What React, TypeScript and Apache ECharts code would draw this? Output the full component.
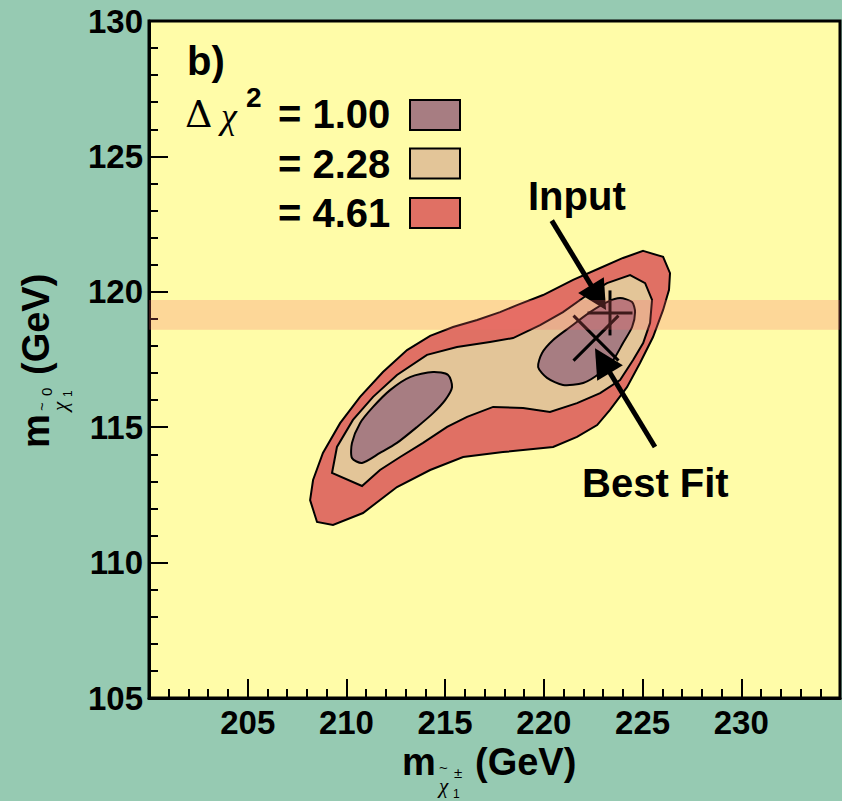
import React, { useEffect, useRef } from "react";
import * as echarts from "echarts";

// ---- data ----
const xRange = [200, 235];
const yRange = [105, 130];
const tickInterval = 5;

// Δχ² = 4.61 contour (outer)
const contour461: number[][] = [
  [225.03, 121.51], [226.04, 121.29], [226.39, 120.69], [226.34, 120.07], [226.04, 119.33],
  [225.53, 118.33], [224.87, 117.37], [224.21, 116.48], [223.35, 115.64], [222.70, 115.08],
  [221.68, 114.64], [220.47, 114.27], [217.93, 114.08], [215.91, 113.90], [214.24, 113.42],
  [212.56, 112.79], [210.84, 111.83], [209.32, 111.39], [208.51, 111.50], [208.16, 112.31],
  [208.31, 113.05], [208.81, 114.05], [209.68, 115.15], [210.69, 116.12], [211.85, 117.04],
  [213.07, 117.85], [214.24, 118.37], [215.40, 118.70], [216.62, 118.96], [217.78, 119.25],
  [218.64, 119.51], [219.96, 119.88], [221.48, 120.44], [222.85, 120.88], [224.01, 121.25],
];
// Δχ² = 2.28 contour
const contour228: number[][] = [
  [224.37, 120.62], [225.13, 120.32], [225.48, 119.70], [225.38, 118.85], [225.03, 118.11],
  [224.52, 117.48], [223.86, 116.74], [222.85, 116.26], [221.68, 115.89], [220.31, 115.56],
  [218.95, 115.71], [217.43, 115.75], [216.11, 115.38], [215.10, 115.01], [213.88, 114.42],
  [212.72, 113.90], [211.70, 113.42], [210.79, 112.83], [209.27, 113.31], [209.52, 114.27],
  [210.33, 115.27], [211.35, 116.12], [212.56, 116.93], [214.08, 117.67], [215.60, 117.96],
  [217.27, 118.15], [218.44, 118.29], [219.81, 118.77], [220.97, 119.25], [222.19, 119.88],
  [223.20, 120.32],
];
// Δχ² = 1.00 contour, right island
const contour100Right: number[][] = [
  [223.86, 119.77], [224.47, 119.62], [224.62, 119.25], [224.47, 118.70], [224.01, 118.11],
  [223.51, 117.48], [222.85, 117.00], [221.99, 116.63], [220.97, 116.56], [220.16, 116.82],
  [219.71, 117.22], [219.91, 117.74], [220.47, 118.22], [221.33, 118.70], [222.34, 119.25],
  [223.20, 119.62],
];
// Δχ² = 1.00 contour, left island
const contour100Left: number[][] = [
  [214.39, 117.04], [215.15, 116.93], [215.35, 116.48], [215.00, 116.00], [214.39, 115.52],
  [213.58, 115.01], [212.56, 114.42], [211.70, 114.05], [210.79, 113.68], [210.28, 113.86],
  [210.28, 114.42], [210.69, 115.15], [211.35, 115.75], [212.21, 116.37], [213.22, 116.85],
];

const band = [118.6, 119.7]; // horizontal band (y range)
const markerPoints: (number | string)[][] = [
  [223.35, 119.22, "plus"], // Input
  [222.64, 118.29, "cross"], // Best Fit
];
// arrows: [xStart, yStart, xTip, yTip]
const arrows: number[][] = [
  [220.4, 122.63, 223.15, 119.33],
  [225.63, 114.27, 222.59, 117.92],
];
const legendLevels = ["= 1.00", "= 2.28", "= 4.61"];

// ---- styles ----
const GREEN = "#96cab2";
const YELLOW = "#fffca8";
const C461 = "#e07064";
const C228 = "#e3c598";
const C100 = "#a77d82";
const legendColors = [C100, C228, C461];
const SANS = '"Liberation Sans", Arial, Helvetica, sans-serif';
const SERIF = '"Liberation Serif", "Times New Roman", serif';

function polygonSeries(name: string, pts: number[][], color: string, smooth: number) {
  return {
    type: "custom",
    name,
    coordinateSystem: "cartesian2d",
    silent: true,
    data: pts,
    encode: { x: 0, y: 1 },
    renderItem: (params: any, api: any) => {
      if (params.dataIndex !== 0) return null;
      return {
        type: "polygon",
        shape: { points: pts.map((p) => api.coord(p)), smooth },
        style: { fill: color, stroke: "#000", lineWidth: 2 },
      };
    },
  };
}

function txt(x: number, y: number, text: string, size: number, opts: any = {}) {
  return {
    type: "text",
    x,
    y,
    z: 100,
    silent: true,
    style: {
      text,
      fontSize: size,
      fontFamily: opts.family || SANS,
      fontWeight: opts.weight || "bold",
      fontStyle: opts.style || "normal",
      fill: "#000",
      align: opts.align || "left",
      verticalAlign: "middle",
    },
  };
}

function massTitle(sup: string) {
  return [
    txt(0, -13, "m", 38),
    txt(37, -8, "~", 15, { weight: "normal" }),
    txt(52, -3, sup, 15, { weight: "normal" }),
    txt(37, 11, "χ", 21, { weight: "normal", family: SERIF, style: "italic" }),
    txt(51, 19, "1", 12, { weight: "normal" }),
    txt(73, -13, "(GeV)", 38),
  ];
}

export default function App() {
  const ref = useRef<HTMLDivElement>(null);
  useEffect(() => {
    const chart = echarts.init(ref.current!, null, { renderer: "svg" });
    const axisCommon = {
      type: "value",
      interval: tickInterval,
      axisLine: { show: true, onZero: false, lineStyle: { color: "#000", width: 3 } },
      axisTick: { show: true, inside: true, length: 19, lineStyle: { color: "#000", width: 2 } },
      minorTick: { show: true, splitNumber: 5, length: 9, lineStyle: { color: "#000", width: 2 } },
      splitLine: { show: false },
      minorSplitLine: { show: false },
    };
    const legendGraphics: any[] = [];
    const boxTops = [100, 148.5, 198];
    const textYs = [114, 164, 212.5];
    legendLevels.forEach((t, i) => {
      legendGraphics.push(txt(278, textYs[i], t, 40));
      legendGraphics.push({
        type: "rect",
        z: 100,
        silent: true,
        shape: { x: 410, y: boxTops[i], width: 50, height: 30 },
        style: { fill: legendColors[i], stroke: "#000", lineWidth: 2 },
      });
    });
    chart.setOption({
      animation: false,
      backgroundColor: GREEN,
      grid: {
        left: 149,
        right: 2,
        top: 21,
        bottom: 103,
        show: true,
        backgroundColor: YELLOW,
        borderColor: "#000",
        borderWidth: 3,
      },
      xAxis: {
        ...axisCommon,
        min: xRange[0],
        max: xRange[1],
        axisLabel: {
          showMinLabel: false,
          showMaxLabel: false,
          fontSize: 33,
          fontWeight: "bold",
          fontFamily: SANS,
          color: "#000",
          margin: 8,
        },
      },
      yAxis: {
        ...axisCommon,
        min: yRange[0],
        max: yRange[1],
        axisLabel: {
          fontSize: 33,
          fontWeight: "bold",
          fontFamily: SANS,
          color: "#000",
          margin: 6,
        },
      },
      series: [
        polygonSeries("4.61", contour461, C461, 0),
        polygonSeries("2.28", contour228, C228, 0),
        polygonSeries("1.00a", contour100Left, C100, 0.25),
        polygonSeries("1.00b", contour100Right, C100, 0.25),
        {
          type: "custom",
          name: "markers",
          coordinateSystem: "cartesian2d",
          silent: true,
          data: markerPoints,
          encode: { x: 0, y: 1 },
          renderItem: (params: any, api: any) => {
            const c = api.coord([api.value(0), api.value(1)]);
            const kind = markerPoints[params.dataIndex][2];
            const s = 22.5;
            const st = { stroke: "#000", lineWidth: 3 };
            if (kind === "plus") {
              return {
                type: "group",
                children: [
                  { type: "line", shape: { x1: c[0] - s, y1: c[1], x2: c[0] + s, y2: c[1] }, style: st },
                  { type: "line", shape: { x1: c[0], y1: c[1] - s, x2: c[0], y2: c[1] + s }, style: st },
                ],
              };
            }
            return {
              type: "group",
              children: [
                { type: "line", shape: { x1: c[0] - s, y1: c[1] - s, x2: c[0] + s, y2: c[1] + s }, style: st },
                { type: "line", shape: { x1: c[0] - s, y1: c[1] + s, x2: c[0] + s, y2: c[1] - s }, style: st },
              ],
            };
          },
        },
        {
          type: "custom",
          name: "arrows",
          coordinateSystem: "cartesian2d",
          silent: true,
          data: arrows,
          encode: { x: [0, 2], y: [1, 3] },
          renderItem: (params: any, api: any) => {
            const p1 = api.coord([api.value(0), api.value(1)]);
            const p2 = api.coord([api.value(2), api.value(3)]);
            const dx = p2[0] - p1[0];
            const dy = p2[1] - p1[1];
            const len = Math.sqrt(dx * dx + dy * dy);
            const ux = dx / len;
            const uy = dy / len;
            const L = 29;
            const W = 30;
            const bx = p2[0] - ux * L;
            const by = p2[1] - uy * L;
            return {
              type: "group",
              children: [
                {
                  type: "line",
                  shape: { x1: p1[0], y1: p1[1], x2: bx + ux * 4, y2: by + uy * 4 },
                  style: { stroke: "#000", lineWidth: 5 },
                },
                {
                  type: "polygon",
                  shape: {
                    points: [
                      [p2[0], p2[1]],
                      [bx - (uy * W) / 2, by + (ux * W) / 2],
                      [bx + (uy * W) / 2, by - (ux * W) / 2],
                    ],
                  },
                  style: { fill: "#000" },
                },
              ],
            };
          },
        },
        {
          type: "custom",
          name: "band",
          coordinateSystem: "cartesian2d",
          silent: true,
          data: [[xRange[0], band[0], xRange[1], band[1]]],
          encode: { x: [0, 2], y: [1, 3] },
          renderItem: (params: any, api: any) => {
            const a = api.coord([api.value(0), api.value(3)]);
            const b = api.coord([api.value(2), api.value(1)]);
            return {
              type: "rect",
              shape: { x: a[0], y: a[1], width: b[0] - a[0], height: b[1] - a[1] },
              style: { fill: "rgba(248,104,104,0.25)" },
            };
          },
        },
      ],
      graphic: [
        txt(187, 61, "b)", 40),
        txt(185, 114, "Δ", 38, { weight: "normal", family: '"DejaVu Serif", serif' }),
        txt(221, 116, "χ", 36, { weight: "normal", family: SERIF, style: "italic" }),
        txt(246, 97, "2", 28),
        ...legendGraphics,
        txt(528, 196, "Input", 40),
        txt(582, 483, "Best Fit", 40),
        { type: "group", x: 402, y: 775, z: 100, children: massTitle("±") },
        { type: "group", x: 49, y: 448, rotation: Math.PI / 2, z: 100, children: massTitle("0") },
      ],
    });
    return () => chart.dispose();
  }, []);
  return (
    <div
      ref={ref}
      style={{ position: "absolute", left: 0, top: 0, width: 842, height: 801 }}
    />
  );
}
